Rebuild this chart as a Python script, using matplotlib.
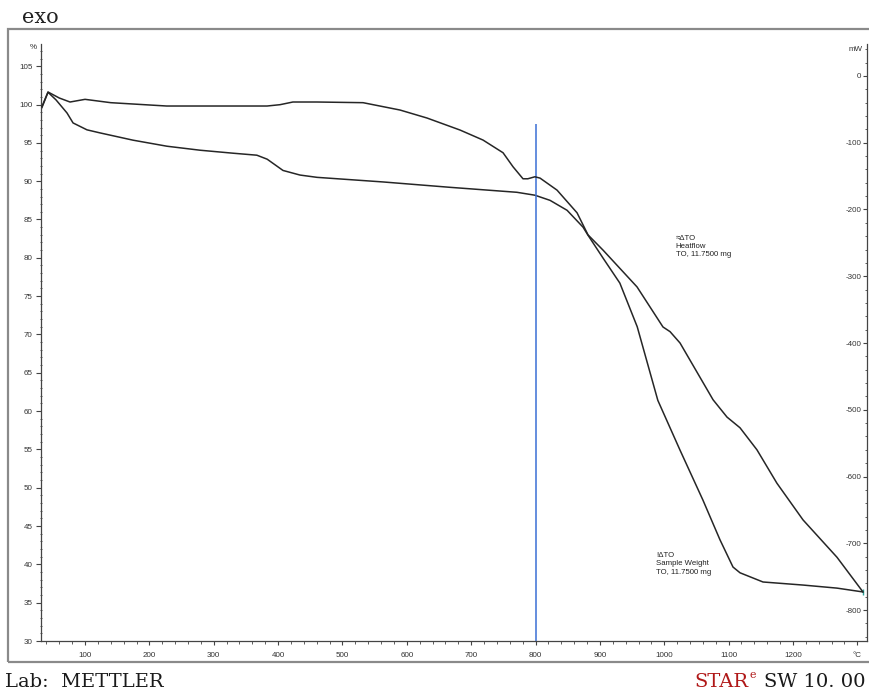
import matplotlib
matplotlib.use("Agg")
import matplotlib.pyplot as plt
import matplotlib.patches as patches
from matplotlib.ticker import MultipleLocator

# Heatflow curve (mW, right axis)
temp_hf = [33, 42.5, 60, 76.7, 100, 140, 174.6, 227, 309.8, 382.8, 403, 423, 460.5,
           532, 589.4, 631.4, 682.7, 718.4, 749.5, 765, 780.5, 788, 799, 807, 833.4,
           864.5, 881.5, 905, 957.7, 998, 1009, 1024.5, 1075.8, 1097.5, 1117.7, 1144,
           1175, 1215.6, 1268.4, 1308.8]
heatflow_mw = [-46, -24, -33, -39, -35, -40, -42, -45, -45, -45, -43, -39, -39,
               -40, -51, -63, -81, -96, -115, -136, -154, -154, -151, -153, -171,
               -205, -238, -261, -316, -376, -383, -400, -485, -511, -527, -560,
               -610, -665, -721, -773]

# Sample weight curve (%, left axis)
temp_tg = [33, 42.5, 55, 72, 81.4, 103, 123.3, 174.6, 227.4, 278.7, 330, 367, 383,
           407.6, 434, 460.5, 563, 667, 771, 799, 822.5, 849, 873.8, 881.5, 905, 931,
           958, 990, 1024.5, 1060, 1086.6, 1106.8, 1117.7, 1153.4, 1215.6, 1268.4, 1308.8]
weight_pct = [99.6, 101.6, 100.6, 98.9, 97.6, 96.7, 96.3, 95.35, 94.56, 94.04, 93.65,
              93.39, 92.87, 91.4, 90.8, 90.5, 89.9, 89.2, 88.55, 88.17, 87.5, 86.2, 84.0,
              82.95, 79.95, 76.7, 71.0, 61.4, 54.9, 48.4, 43.2, 39.65, 38.9, 37.7, 37.3,
              36.9, 36.4]

x_ticks = [100, 200, 300, 400, 500, 600, 700, 800, 900, 1000, 1100, 1200, 1300]
x_labels = ["100", "200", "300", "400", "500", "600", "700", "800", "900", "1000",
            "1100", "1200", "°C"]
left_ticks = list(range(30, 106, 5))
right_ticks = [0, -100, -200, -300, -400, -500, -600, -700, -800]
marker_temp = 800
marker_top = 97.4

tick_font = dict(family="Liberation Sans", size=5.8, color="#333333")
line_col = "#262626"
red = "#b01818"

fig = plt.figure(figsize=(8.69, 6.90), dpi=100)

# grey outer frame
frame = patches.Rectangle((8 / 869, 28 / 690), 1.2, (662 - 29) / 690,
                          transform=fig.transFigure, fill=False,
                          edgecolor="#8a8a8a", linewidth=1.6, clip_on=False)
fig.patches.append(frame)

ax = fig.add_axes([41 / 869, 49 / 690, (867 - 41) / 869, (641 - 44) / 690])
ax.set_xlim(31.6, 1315)
ax.set_ylim(30, 107.9)
ax.patch.set_alpha(0)

ax2 = ax.twinx()
ax2.set_ylim(-846.4, 47.9)

ax.plot(temp_tg, weight_pct, color=line_col, lw=1.1)
ax2.plot(temp_hf, heatflow_mw, color=line_col, lw=1.1)
ax.vlines(marker_temp, 30, marker_top, color="#3b6fd4", lw=1.1)
ax.plot(temp_tg[-1], weight_pct[-1], marker="|", color="#2aa198", ms=5)

for a in (ax, ax2):
    a.spines["top"].set_visible(False)
    for s in a.spines.values():
        s.set_color("#444444")
        s.set_linewidth(0.9)
ax.spines["right"].set_visible(False)
ax2.spines["left"].set_visible(False)
ax2.spines["bottom"].set_visible(False)

ax.set_xticks(x_ticks)
ax.set_xticklabels(x_labels, **tick_font)
ax.xaxis.set_minor_locator(MultipleLocator(20))
ax.tick_params(axis="x", which="major", direction="out", length=3, width=0.8,
               color="#444444", pad=5)
ax.tick_params(axis="x", which="minor", direction="out", length=2, width=0.6,
               color="#444444")

ax.set_yticks(left_ticks)
ax.set_yticklabels([str(v) for v in left_ticks], **tick_font)
ax.yaxis.set_minor_locator(MultipleLocator(1))
ax.tick_params(axis="y", which="major", direction="out", length=3.5, width=0.8,
               color="#444444", pad=2.5)
ax.tick_params(axis="y", which="minor", direction="inout", length=2, width=0.6,
               color="#444444")

ax2.set_yticks(right_ticks)
ax2.set_yticklabels([str(v) for v in right_ticks], **tick_font)
ax2.yaxis.set_minor_locator(MultipleLocator(20))
ax2.tick_params(axis="y", which="major", direction="in", length=3, width=0.8,
                color="#444444", pad=-4)
ax2.tick_params(axis="y", which="minor", direction="in", length=1.5, width=0.6,
                color="#444444")
plt.setp(ax2.get_yticklabels(), ha="right")

# unit labels
ax.text(-0.005, 107.5, "%", transform=ax.get_yaxis_transform(), ha="right",
        va="center", **tick_font)
ax2.text(0.994, 40, "mW", transform=ax2.get_yaxis_transform(), ha="right",
         va="center", **tick_font)

# curve annotations
ax.text(1018, 83.0, "≈ΔTO\nHeatflow\nTO, 11.7500 mg", ha="left", va="top",
        linespacing=1.25, family="Liberation Sans", size=5.6, color="#222222")
ax.text(987, 41.6, "!ΔTO\nSample Weight\nTO, 11.7500 mg", ha="left", va="top",
        linespacing=1.25, family="Liberation Sans", size=5.6, color="#222222")

# header / footer
fig.text(22 / 869, 1 - 23 / 690, "exo", family="DejaVu Serif", size=15,
         color="#222222", ha="left", va="baseline")
fig.text(5 / 869, 1 - 687 / 690, "Lab:  METTLER", family="DejaVu Serif", size=14,
         color="#1a1a1a", ha="left", va="baseline")
t_sw = fig.text(866 / 869, 1 - 687 / 690, "SW 10. 00", family="DejaVu Serif",
                size=14, color="#1a1a1a", ha="right", va="baseline")
ax2.annotate("e", xy=(0, 0), xycoords=t_sw, xytext=(-6, 8),
             textcoords="offset points", ha="right", va="bottom",
             family="DejaVu Serif", size=8, color=red, annotation_clip=False)
ax2.annotate("STAR", xy=(0, 0), xycoords=t_sw, xytext=(-11.5, 0),
             textcoords="offset points", ha="right", va="bottom",
             family="DejaVu Serif", size=14, color=red, annotation_clip=False)

fig.savefig("out.png", dpi=100)
